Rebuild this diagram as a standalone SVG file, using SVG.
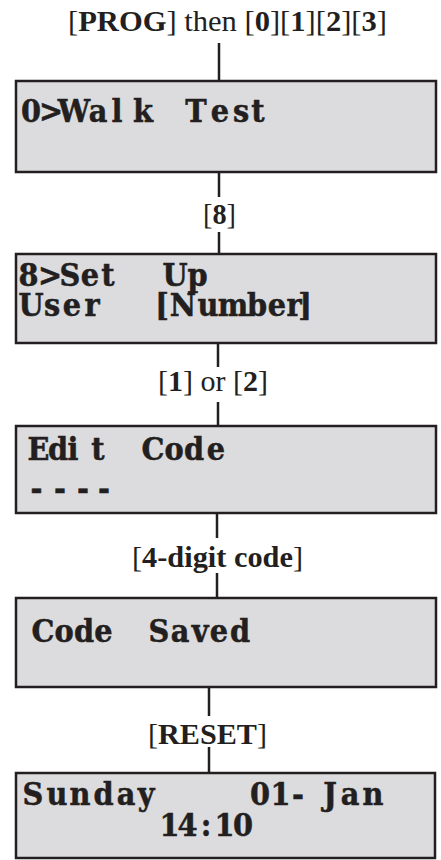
<svg xmlns="http://www.w3.org/2000/svg" width="441" height="860" viewBox="0 0 441 860">
<style>
.box{fill:#dcdcde;stroke:#231f20;stroke-width:2.5}
.conn{stroke:#231f20;stroke-width:2.5;fill:none}
.lcd{font-family:"DejaVu Serif","Liberation Serif",serif;font-weight:bold;font-stretch:condensed;font-size:32px;fill:#231f20;stroke:#231f20;stroke-width:0.5;text-anchor:middle}
.lbl{font-family:"Liberation Serif","Times New Roman",serif;font-size:30px;fill:#231f20}
.b{font-weight:bold}
</style>
<rect width="441" height="860" fill="#ffffff"/>
<g id="connectors">
<line class="conn" x1="219" y1="43" x2="219" y2="81"/>
<line class="conn" x1="219" y1="172" x2="219" y2="197"/>
<line class="conn" x1="219" y1="232" x2="219" y2="254"/>
<line class="conn" x1="218" y1="343" x2="218" y2="367"/>
<line class="conn" x1="218" y1="402" x2="218" y2="426"/>
<line class="conn" x1="217" y1="513" x2="217" y2="538"/>
<line class="conn" x1="217" y1="573" x2="217" y2="598"/>
<line class="conn" x1="209" y1="687" x2="209" y2="716"/>
<line class="conn" x1="209" y1="747" x2="209" y2="773"/>
</g>
<g id="labels">
<text class="lbl" x="68" y="31" textLength="319" lengthAdjust="spacingAndGlyphs" font-size="33">[<tspan class="b">PROG</tspan>] then [<tspan class="b">0</tspan>][<tspan class="b">1</tspan>][<tspan class="b">2</tspan>][<tspan class="b">3</tspan>]</text>
<text class="lbl" x="203" y="224" textLength="33" lengthAdjust="spacingAndGlyphs">[<tspan class="b">8</tspan>]</text>
<text class="lbl" x="158" y="391" textLength="110" lengthAdjust="spacingAndGlyphs">[<tspan class="b">1</tspan>] or [<tspan class="b">2</tspan>]</text>
<text class="lbl" x="132" y="567" textLength="171" lengthAdjust="spacingAndGlyphs">[<tspan class="b">4-digit code</tspan>]</text>
<text class="lbl" x="148" y="744" textLength="119" lengthAdjust="spacingAndGlyphs">[<tspan class="b">RESET</tspan>]</text>
</g>
<g id="node-walk-test">
<rect class="box" x="16" y="81" width="420" height="91"/>
<text class="lcd" xml:space="preserve" x="31 51 74 98 117 143 160 178 196 220 241 258" y="122">0&gt;Walk  Test</text>
</g>
<g id="node-set-up-user">
<rect class="box" x="16" y="254" width="420" height="89"/>
<text class="lcd" xml:space="preserve" x="28.5 50 70 90 108 128 150 175 197.5" y="286">8&gt;Set  Up</text>
<text class="lcd" xml:space="preserve" x="31 52 72 92 115 138 162 183 208 233 257 277 294 305" y="316">User  [Number]</text>
</g>
<g id="node-edit-code">
<rect class="box" x="16" y="426" width="420" height="87"/>
<text class="lcd" xml:space="preserve" x="38.5 58 73 98 118 135 153 174 194 216" y="460">Edit  Code</text>
<text class="lcd" xml:space="preserve" x="36.5 48 60 71 83 93 104" y="499">- - - -</text>
</g>
<g id="node-code-saved">
<rect class="box" x="16" y="598" width="420" height="89"/>
<text class="lcd" xml:space="preserve" x="43 64 84 103.5 120 140 159 180 200 219 240" y="642">Code  Saved</text>
</g>
<g id="node-date-time">
<rect class="box" x="16" y="773" width="419" height="85"/>
<text class="lcd" xml:space="preserve" x="33 57 80 103.5 126 146" y="805">Sunday</text>
<text class="lcd" xml:space="preserve" x="260 280.5 298 314 330 350 373" y="805">01- Jan</text>
<text class="lcd" xml:space="preserve" x="169.5 187.5 206 212 224.5 243" y="836">14: 10</text>
</g>
</svg>
